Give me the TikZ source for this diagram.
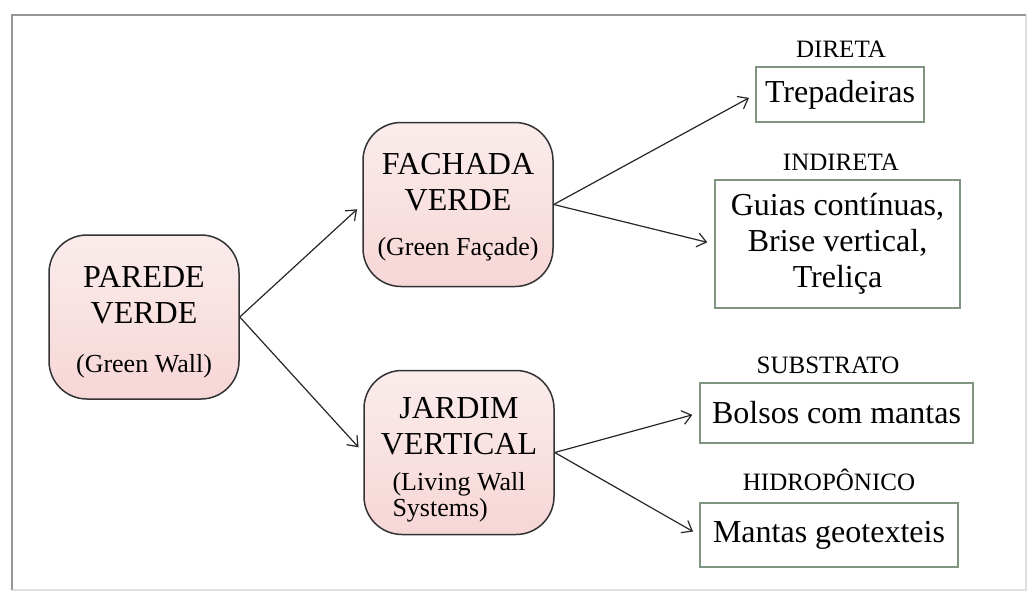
\documentclass[tikz,border=0pt]{standalone}
\usepackage{fontspec}
\setmainfont{Liberation Serif}
\usetikzlibrary{arrows.meta}

\definecolor{pinktop}{RGB}{251,236,236}
\definecolor{pinkbot}{RGB}{247,214,214}
\definecolor{boxgreen}{RGB}{128,150,128}
\definecolor{framegray}{RGB}{150,150,150}
\newcommand\subtxt{\fontsize{26}{25}\selectfont}

\begin{document}
\begin{tikzpicture}[x=1pt,y=-1pt,
  wall/.style={draw=black!80, line width=1.5pt, rounded corners=38pt,
    top color=pinktop, bottom color=pinkbot, minimum width=190pt,
    minimum height=164pt, inner sep=0pt, align=center,
    font=\fontsize{32}{36}\selectfont},
  kind/.style={draw=boxgreen, line width=1.8pt, inner sep=0pt, align=center,
    font=\fontsize{32}{36}\selectfont},
  cat/.style={anchor=base, font=\fontsize{25}{30}\selectfont},
  link/.style={-{Straight Barb[length=9pt,width=14pt]}, line width=1.2pt,
    black!85, shorten >=7pt}]
  \fill[white] (0,0) rectangle (1028,595);
  \useasboundingbox (0,0) rectangle (1028,595);
  % frame
  \draw[black!12, line width=1.5pt] (12,590) -- (1026,590) -- (1026,15);
  \draw[framegray, line width=2pt] (12,590) -- (12,15) -- (1026,15);

  % rounded boxes
  \node[wall] (pared) at (144,317) {\rule{0pt}{31pt}PAREDE\\VERDE\\[13pt]{\subtxt (Green Wall)}};
  \node[wall] (fach) at (458,204.5) {\rule{0pt}{27pt}FACHADA\\VERDE\\[9pt]{\subtxt (Green Façade)}};
  \node[wall] (jard) at (459,452.5) {\rule{0pt}{37pt}JARDIM\\VERTICAL\\{\subtxt\begin{tabular}[t]{@{}l@{}}(Living Wall\\Systems)\end{tabular}}};

  % kinds
  \node[kind, minimum width=168pt, minimum height=55pt] (trep) at (840,94.5) {Trepadeiras};
  \node[kind, minimum width=245pt, minimum height=128pt] (guias) at (837.5,244) {Guias contínuas,\\Brise vertical,\\Treliça};
  \node[kind, minimum width=273pt, minimum height=60pt] (bolsos) at (836.5,413) {Bolsos com mantas};
  \node[kind, minimum width=258pt, minimum height=64pt] (mantas) at (829,535) {Mantas geotexteis};

  \node[cat] (dir) at (841,57) {DIRETA};
  \node[cat] (indir) at (841,170) {INDIRETA};
  \node[cat] (subst) at (828,373) {SUBSTRATO};
  \node[cat] (hidro) at (829,490) {HIDROPÔNICO};

  % arrows
  \draw[link] (pared.east) -- (fach.west);
  \draw[link] (pared.east) -- (jard.west);
  \draw[link] (fach.east) -- (trep.west);
  \draw[link] (fach.east) -- (guias.west);
  \draw[link] (jard.east) -- (bolsos.west);
  \draw[link] (jard.east) -- (mantas.west);
\end{tikzpicture}
\end{document}
